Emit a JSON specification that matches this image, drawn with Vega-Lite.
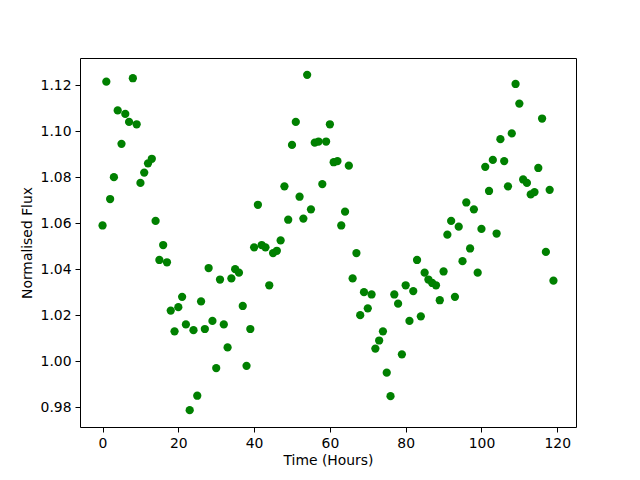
{
  "$schema": "https://vega.github.io/schema/vega-lite/v6.json",
  "width": 496,
  "height": 369,
  "autosize": {"type": "none"},
  "padding": {"left": 80, "top": 58, "right": 64, "bottom": 53},
  "background": "white",
  "config": {
    "view": {"stroke": "black", "strokeWidth": 1},
    "font": "DejaVu Sans",
    "axis": {
      "grid": false,
      "domain": false,
      "tickColor": "black",
      "tickSize": 5,
      "tickWidth": 1,
      "labelColor": "black",
      "labelFont": "DejaVu Sans",
      "labelFontSize": 13.9,
      "labelPadding": 4,
      "titleFont": "DejaVu Sans",
      "titleFontSize": 13.9,
      "titleFontWeight": "normal",
      "titleColor": "black"
    }
  },
  "data": {
    "values": [
      {"t": 0, "f": 1.059}, {"t": 1, "f": 1.1215}, {"t": 2, "f": 1.0705}, {"t": 3, "f": 1.080},
      {"t": 4, "f": 1.109}, {"t": 5, "f": 1.0945}, {"t": 6, "f": 1.1075}, {"t": 7, "f": 1.104},
      {"t": 8, "f": 1.123}, {"t": 9, "f": 1.103}, {"t": 10, "f": 1.0775}, {"t": 11, "f": 1.082},
      {"t": 12, "f": 1.086}, {"t": 13, "f": 1.088}, {"t": 14, "f": 1.061}, {"t": 15, "f": 1.044},
      {"t": 16, "f": 1.0505}, {"t": 17, "f": 1.043}, {"t": 18, "f": 1.022}, {"t": 19, "f": 1.013},
      {"t": 20, "f": 1.0235}, {"t": 21, "f": 1.028}, {"t": 22, "f": 1.016}, {"t": 23, "f": 0.9787},
      {"t": 24, "f": 1.0135}, {"t": 25, "f": 0.985}, {"t": 26, "f": 1.026}, {"t": 27, "f": 1.014},
      {"t": 28, "f": 1.0405}, {"t": 29, "f": 1.0175}, {"t": 30, "f": 0.997}, {"t": 31, "f": 1.0355},
      {"t": 32, "f": 1.016}, {"t": 33, "f": 1.006}, {"t": 34, "f": 1.036}, {"t": 35, "f": 1.040},
      {"t": 36, "f": 1.0385}, {"t": 37, "f": 1.024}, {"t": 38, "f": 0.998}, {"t": 39, "f": 1.014},
      {"t": 40, "f": 1.0495}, {"t": 41, "f": 1.068}, {"t": 42, "f": 1.0505}, {"t": 43, "f": 1.0495},
      {"t": 44, "f": 1.033}, {"t": 45, "f": 1.047}, {"t": 46, "f": 1.048}, {"t": 47, "f": 1.0525},
      {"t": 48, "f": 1.076}, {"t": 49, "f": 1.0615}, {"t": 50, "f": 1.094}, {"t": 51, "f": 1.104},
      {"t": 52, "f": 1.0715}, {"t": 53, "f": 1.062}, {"t": 54, "f": 1.1245}, {"t": 55, "f": 1.066},
      {"t": 56, "f": 1.095}, {"t": 57, "f": 1.0955}, {"t": 58, "f": 1.077}, {"t": 59, "f": 1.0955},
      {"t": 60, "f": 1.103}, {"t": 61, "f": 1.0865}, {"t": 62, "f": 1.087}, {"t": 63, "f": 1.059},
      {"t": 64, "f": 1.065}, {"t": 65, "f": 1.085}, {"t": 66, "f": 1.036}, {"t": 67, "f": 1.047},
      {"t": 68, "f": 1.020}, {"t": 69, "f": 1.030}, {"t": 70, "f": 1.023}, {"t": 71, "f": 1.029},
      {"t": 72, "f": 1.0055}, {"t": 73, "f": 1.009}, {"t": 74, "f": 1.013}, {"t": 75, "f": 0.995},
      {"t": 76, "f": 0.9848}, {"t": 77, "f": 1.029}, {"t": 78, "f": 1.025}, {"t": 79, "f": 1.003},
      {"t": 80, "f": 1.033}, {"t": 81, "f": 1.0175}, {"t": 82, "f": 1.0305}, {"t": 83, "f": 1.044},
      {"t": 84, "f": 1.0195}, {"t": 85, "f": 1.0385}, {"t": 86, "f": 1.0355}, {"t": 87, "f": 1.034},
      {"t": 88, "f": 1.033}, {"t": 89, "f": 1.0265}, {"t": 90, "f": 1.039}, {"t": 91, "f": 1.055},
      {"t": 92, "f": 1.061}, {"t": 93, "f": 1.028}, {"t": 94, "f": 1.0585}, {"t": 95, "f": 1.0435},
      {"t": 96, "f": 1.069}, {"t": 97, "f": 1.049}, {"t": 98, "f": 1.066}, {"t": 99, "f": 1.0385},
      {"t": 100, "f": 1.0575}, {"t": 101, "f": 1.0845}, {"t": 102, "f": 1.074}, {"t": 103, "f": 1.0875},
      {"t": 104, "f": 1.0555}, {"t": 105, "f": 1.0965}, {"t": 106, "f": 1.087}, {"t": 107, "f": 1.076},
      {"t": 108, "f": 1.099}, {"t": 109, "f": 1.1205}, {"t": 110, "f": 1.112}, {"t": 111, "f": 1.079},
      {"t": 112, "f": 1.0775}, {"t": 113, "f": 1.0725}, {"t": 114, "f": 1.0735}, {"t": 115, "f": 1.084},
      {"t": 116, "f": 1.1055}, {"t": 117, "f": 1.0475}, {"t": 118, "f": 1.0745}, {"t": 119, "f": 1.035}
    ]
  },
  "mark": {"type": "circle", "color": "#008000", "opacity": 1, "size": 68},
  "encoding": {
    "x": {
      "field": "t", "type": "quantitative",
      "scale": {"domain": [-5.95, 124.95], "nice": false, "zero": false},
      "axis": {"values": [0, 20, 40, 60, 80, 100, 120], "title": "Time (Hours)", "titlePadding": 4}
    },
    "y": {
      "field": "f", "type": "quantitative",
      "scale": {"domain": [0.9714, 1.1318], "nice": false, "zero": false},
      "axis": {"values": [0.98, 1.00, 1.02, 1.04, 1.06, 1.08, 1.10, 1.12], "format": ".2f", "title": "Normalised Flux", "titlePadding": 6}
    }
  }
}
